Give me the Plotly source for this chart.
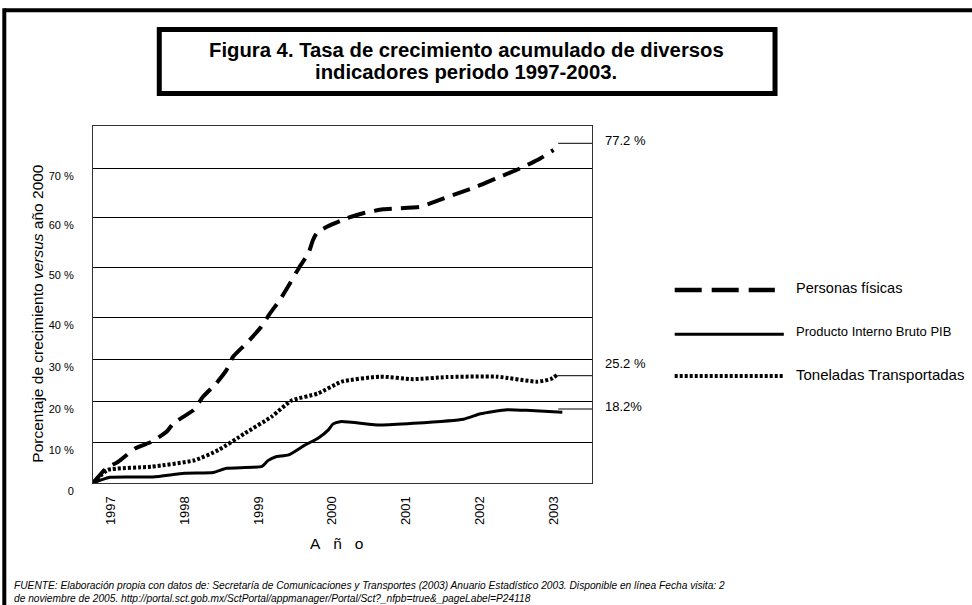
import numpy as np
import plotly.graph_objects as go

W, H = 972, 605
PL, PR, PT, PB = 93.3, 591.7, 126.0, 483.0

# ---------------- data ----------------
years_personas = [1996.76, 1996.94, 1997.10, 1997.33, 1997.55, 1997.76, 1997.85, 1998.12,
                  1998.25, 1998.43, 1998.57, 1998.66, 1998.84, 1999.04, 1999.16, 1999.29,
                  1999.43, 1999.56, 1999.68, 1999.74, 1999.79, 1999.93, 2000.20, 2000.42,
                  2000.69, 2001.19, 2001.33, 2001.60, 2001.96, 2002.23, 2002.55, 2002.82,
                  2003.00]
personas = [0, 3.6, 5.2, 8.5, 10.1, 12.6, 14.6, 17.8, 21.0, 24.2, 27.4, 30.6, 33.8, 37.8,
            40.9, 43.5, 46.9, 50.2, 52.9, 55.5, 56.9, 58.2, 59.9, 60.9, 61.7, 62.2, 62.9,
            64.4, 66.3, 68.0, 70.0, 72.0, 73.7]

years_pib = [1996.76, 1996.99, 1997.57, 1998.00, 1998.39, 1998.57, 1999.05, 1999.13,
             1999.23, 1999.41, 1999.63, 1999.81, 1999.95, 2000.01, 2000.11, 2000.65,
             2001.10, 2001.78, 2002.01, 2002.37, 2002.69, 2003.12]
pib = [0, 1.4, 1.5, 2.4, 2.6, 3.6, 4.1, 5.5, 6.4, 6.9, 9.3, 11.0, 13.0, 14.4, 15.0, 14.2,
       14.6, 15.6, 16.9, 17.9, 17.7, 17.3]

years_ton = [1996.76, 1996.96, 1997.55, 1998.14, 1998.46, 1998.82, 1999.18, 1999.45,
             1999.81, 2000.13, 2000.65, 2001.10, 2001.55, 2002.23, 2002.78, 2002.96, 2003.05]
toneladas = [0, 3.2, 4.0, 5.6, 8.1, 12.2, 16.2, 20.1, 21.8, 24.6, 25.8, 25.2, 25.7, 25.8,
             24.6, 25.2, 26.2]

x_ticks = [1997, 1998, 1999, 2000, 2001, 2002, 2003]
x_ticktext = ["1997", "1998", "1999", "2000", "2001", "2002", "2003"]
y_tick_pct = [0, 10, 20, 30, 40, 50, 60, 70]
y_ticktext = ["0", "10 %", "20 %", "30 %", "40 %", "50 %", "60 %", "70 %"]
end_labels = ["77.2 %", "25.2 %", "18.2%"]
series_names = ["Personas físicas", "Producto Interno Bruto PIB", "Toneladas Transportadas"]

# ---------------- scale: the original axis is drawn with uneven gridline spacing ----------
SCALE_PCT = [0, 10, 20, 30, 40, 50, 60, 70, 80]
SCALE_POS = [0, 40.7, 82.0, 124.0, 165.3, 215.3, 265.3, 314.7, 364.1]


def ypos(v):
    return np.interp(np.asarray(v, dtype=float), SCALE_PCT, SCALE_POS)


def px(x):
    return (x - PL) / (PR - PL)


def py(y):
    return (PB - y) / (PB - PT)


FONT = "Liberation Sans, Arial, sans-serif"

fig = go.Figure()
fig.add_trace(go.Scatter(x=years_personas, y=ypos(personas), mode="lines", name=series_names[0],
                         line=dict(color="black", width=4, dash="18px,9px", shape="spline", smoothing=0.5)))
fig.add_trace(go.Scatter(x=years_pib, y=ypos(pib), mode="lines", name=series_names[1],
                         line=dict(color="black", width=3, shape="spline", smoothing=0.5)))
fig.add_trace(go.Scatter(x=years_ton, y=ypos(toneladas), mode="lines", name=series_names[2],
                         line=dict(color="black", width=4, dash="3px,2px", shape="spline", smoothing=0.5)))

shapes = []
# outer frame (top and left)
shapes.append(dict(type="line", xref="paper", yref="paper", x0=px(4.7), x1=px(972), y0=py(10.3), y1=py(10.3),
                   line=dict(color="black", width=4)))
shapes.append(dict(type="line", xref="paper", yref="paper", x0=px(4.7), x1=px(4.7), y0=py(8.3), y1=py(605),
                   line=dict(color="black", width=4)))
# title box
shapes.append(dict(type="rect", xref="paper", yref="paper", x0=px(159.5), x1=px(774.5), y0=py(29.5), y1=py(93.5),
                   line=dict(color="black", width=5), fillcolor="white"))
# end value leader lines
for yy, x0 in [(143.3, 558), (375.7, 557), (409.0, 558)]:
    shapes.append(dict(type="line", xref="paper", yref="paper", x0=px(x0), x1=px(591.7), y0=py(yy), y1=py(yy),
                       line=dict(color="black", width=1)))
# legend samples
shapes.append(dict(type="line", xref="paper", yref="paper", x0=px(674.3), x1=px(774.3), y0=py(290), y1=py(290),
                   line=dict(color="black", width=4.5, dash="27px,10px")))
shapes.append(dict(type="line", xref="paper", yref="paper", x0=px(674.3), x1=px(783.3), y0=py(334.3), y1=py(334.3),
                   line=dict(color="black", width=3)))
shapes.append(dict(type="line", xref="paper", yref="paper", x0=px(674.3), x1=px(783.3), y0=py(376), y1=py(376),
                   line=dict(color="black", width=4, dash="3px,2px")))

ann = []
ann.append(dict(xref="paper", yref="paper", x=px(466), y=py(50), xanchor="center", yanchor="middle",
                text="<b>Figura 4. Tasa de crecimiento acumulado de diversos</b>",
                showarrow=False, font=dict(family=FONT, size=20.3, color="black")))
ann.append(dict(xref="paper", yref="paper", x=px(466), y=py(72), xanchor="center", yanchor="middle",
                text="<b>indicadores periodo 1997-2003.</b>",
                showarrow=False, font=dict(family=FONT, size=20.3, color="black")))
ann.append(dict(xref="paper", yref="paper", x=px(37), y=py(313), xanchor="center", yanchor="middle",
                textangle=-90, showarrow=False,
                text="Porcentaje de crecimiento <i>versus</i> año 2000",
                font=dict(family=FONT, size=15.5, color="black")))
ann.append(dict(xref="paper", yref="paper", x=px(336.7), y=py(543.3), xanchor="center", yanchor="middle",
                showarrow=False, text="A\u00a0\u00a0\u00a0ñ\u00a0\u00a0\u00a0o",
                font=dict(family=FONT, size=15.5, color="black")))
for txt, yy, sz in [(end_labels[0], 140.7, 13), (end_labels[1], 363.3, 13), (end_labels[2], 406.7, 13)]:
    ann.append(dict(xref="paper", yref="paper", x=px(602.7), y=py(yy), xanchor="left", yanchor="middle",
                    showarrow=False, text=txt, font=dict(family=FONT, size=sz, color="black")))
for txt, yy, sz in [(series_names[0], 288.3, 14.5), (series_names[1], 331.7, 13), (series_names[2], 374, 15)]:
    ann.append(dict(xref="paper", yref="paper", x=px(793.3), y=py(yy), xanchor="left", yanchor="middle",
                    showarrow=False, text=txt, font=dict(family=FONT, size=sz, color="black")))
ann.append(dict(xref="paper", yref="paper", x=px(12), y=py(585), xanchor="left", yanchor="middle",
                showarrow=False, align="left",
                text="<i>FUENTE: Elaboración propia con datos de: Secretaría de Comunicaciones y Transportes (2003) "
                     "Anuario Estadístico 2003. Disponible en línea Fecha visita: 2</i>",
                font=dict(family=FONT, size=10.2, color="black")))
ann.append(dict(xref="paper", yref="paper", x=px(12), y=py(598), xanchor="left", yanchor="middle",
                showarrow=False, align="left",
                text="<i>de noviembre de 2005. "
                     "http://portal.sct.gob.mx/SctPortal/appmanager/Portal/Sct?_nfpb=true&_pageLabel=P24118</i>",
                font=dict(family=FONT, size=10.2, color="black")))

fig.update_layout(
    width=W, height=H,
    margin=dict(l=PL, r=W - PR, t=PT, b=H - PB, pad=0, autoexpand=False),
    plot_bgcolor="white", paper_bgcolor="white", showlegend=False,
    font=dict(family=FONT, color="black"),
    shapes=shapes, annotations=ann,
    xaxis=dict(range=[1996.76, 2003.522], showgrid=False, zeroline=False, showline=True, mirror=True,
               linecolor="#333", linewidth=1, tickmode="array", tickvals=x_ticks, ticktext=x_ticktext,
               tickangle=-90, tickfont=dict(size=13, family=FONT, color="black"),
               ticklabelstandoff=7, automargin=False),
    yaxis=dict(range=[0, 357], showgrid=False, zeroline=False, showline=True, mirror=True,
               linecolor="#333", linewidth=1, tickmode="array", tickvals=list(ypos(y_tick_pct)),
               ticktext=y_ticktext, ticklabelposition="outside bottom",
               tickfont=dict(size=11, family=FONT, color="black"), ticklabelstandoff=16, automargin=False,
               minor=dict(tickmode="array", tickvals=list(ypos(y_tick_pct[1:])), showgrid=True,
                          gridcolor="black", gridwidth=1.3, ticks="")),
)

fig.write_html("out.html", config={"displayModeBar": False},
               post_script="document.body.style.margin='0px';document.body.style.overflow='hidden';")
